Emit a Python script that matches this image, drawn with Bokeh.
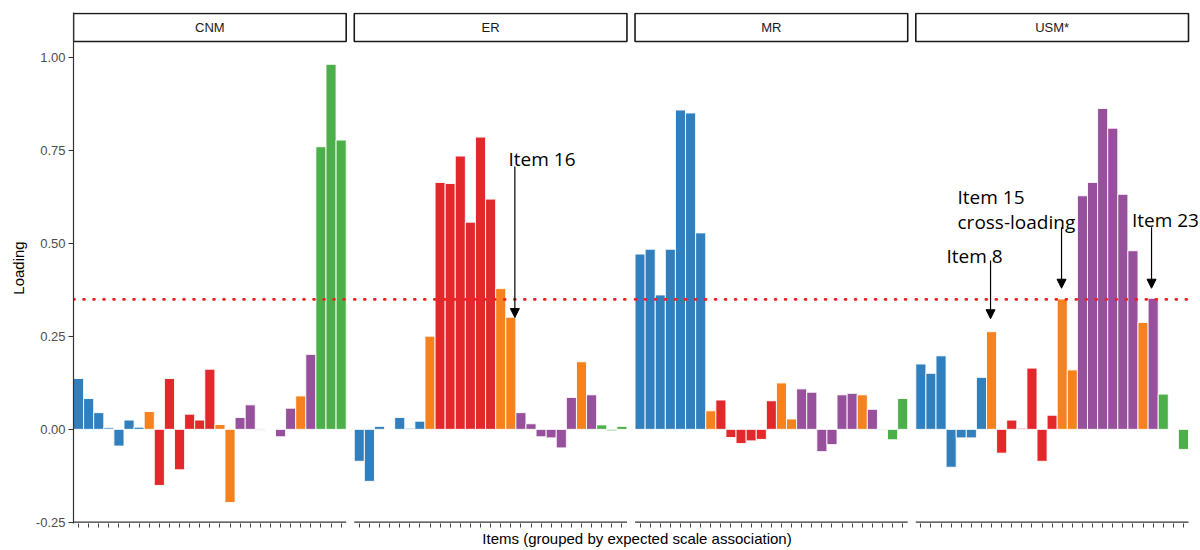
import numpy as np
from bokeh.plotting import figure
from bokeh.models import (ColumnDataSource, FixedTicker, PrintfTickFormatter,
                          Label, Arrow, NormalHead, Range1d)
from bokeh.embed import file_html
from bokeh.resources import INLINE
from bokeh.core.properties import value

# ---------------- data ----------------
panels = ["CNM", "ER", "MR", "USM*"]
n_items = 27
# expected scale association of each item slot (drives colour)
item_group = (["MR"] * 7 + ["Other"] + ["ER"] * 6 + ["Other"] * 2 +
              ["USM"] * 6 + ["Other"] + ["USM"] + ["CNM"] * 3)
group_colors = {"MR": "#317fbd", "Other": "#f5821f", "ER": "#e2282a",
                "USM": "#97509b", "CNM": "#4caf4a"}

cnm_loadings = [0.137, 0.083, 0.045, 0.004, -0.045, 0.025, 0.006, 0.048,
                -0.151, 0.137, -0.109, 0.041, 0.025, 0.162, 0.013, -0.197,
                0.032, 0.066, -0.002, 0.000, -0.020, 0.057, 0.090, 0.202,
                0.761, 0.983, 0.779]
er_loadings = [-0.086, -0.140, 0.008, 0.000, 0.032, 0.003, 0.022, 0.251,
               0.665, 0.662, 0.736, 0.558, 0.787, 0.620, 0.379, 0.302,
               0.045, 0.015, -0.020, -0.023, -0.050, 0.086, 0.182, 0.093,
               0.012, -0.004, 0.008]
mr_loadings = [0.472, 0.485, 0.362, 0.485, 0.860, 0.852, 0.529, 0.050,
               0.079, -0.022, -0.038, -0.031, -0.027, 0.077, 0.125, 0.028,
               0.109, 0.100, -0.060, -0.041, 0.093, 0.097, 0.093, 0.054,
               -0.002, -0.028, 0.083]
usm_loadings = [0.176, 0.151, 0.198, -0.102, -0.023, -0.023, 0.140, 0.263,
                -0.064, 0.025, 0.003, 0.165, -0.086, 0.038, 0.351, 0.160,
                0.629, 0.665, 0.864, 0.811, 0.633, 0.481, 0.288, 0.353,
                0.095, 0.000, -0.054]
panel_loadings = [cnm_loadings, er_loadings, mr_loadings, usm_loadings]

threshold = 0.35
y_ticks = [-0.25, 0.0, 0.25, 0.50, 0.75, 1.00]

# annotations: panel, text lines, label x (item units), baseline y, arrow x, arrow y0, arrow y1
ann_panel = ["ER", "USM*", "USM*", "USM*"]
ann_text = [["Item 16"], ["Item 15", "cross-loading"], ["Item 8"], ["Item 23"]]
ann_text_x = [15.77, 4.63, 3.54, 21.90]
ann_text_y = [0.727, 0.627, 0.468, 0.563]
ann_arrow_x = [16.40, 14.93, 7.90, 23.84]
ann_arrow_y0 = [0.708, 0.544, 0.455, 0.544]
ann_arrow_y1 = [0.301, 0.380, 0.298, 0.380]

# ---------------- layout helpers ----------------
GAP = 0.8
step = n_items + GAP
def px(k, i):
    return k * step + i

xs, tops, cols = [], [], []
for k, vals in enumerate(panel_loadings):
    for i, v in enumerate(vals, start=1):
        xs.append(px(k, i))
        tops.append(v)
        cols.append(group_colors[item_group[i - 1]])
src = ColumnDataSource(dict(x=xs, top=tops, color=cols))

PX_PER_UNIT = 10.0996
LEFT = 73
FIG_W = 1200
x_start = 0.5
x_end = x_start + (FIG_W - LEFT) / PX_PER_UNIT
y_start, y_end = -0.2535, 1.1225
strip_bottom, strip_top = 1.0444, 1.1198

p = figure(width=FIG_W, height=550, output_backend="svg", toolbar_location=None,
           x_range=Range1d(x_start, x_end), y_range=Range1d(y_start, y_end),
           min_border_left=LEFT, min_border_right=0, min_border_top=12,
           min_border_bottom=27)
p.outline_line_color = None
p.xgrid.visible = False
p.ygrid.visible = False
p.background_fill_color = "white"

# bars
p.vbar(x="x", top="top", bottom=0, width=1.0, fill_color="color",
       line_color="white", line_width=0.9, source=src)

# per-panel threshold line, x-axis line and strips
seg_x0 = [px(k, 0.5) for k in range(4)]
seg_x1 = [px(k, n_items + 0.5) for k in range(4)]
p.segment(x0=seg_x0, x1=seg_x1, y0=[threshold] * 4, y1=[threshold] * 4,
          line_color="#f0201e", line_width=2.6, line_dash=value("1 9"),
          line_cap="round")
p.segment(x0=seg_x0, x1=seg_x1, y0=[-0.25] * 4, y1=[-0.25] * 4,
          line_color="#333333", line_width=1.2)
p.quad(left=seg_x0, right=seg_x1, bottom=[strip_bottom] * 4,
       top=[strip_top] * 4, fill_color="white", line_color="#1a1a1a",
       line_width=1.6)
p.text(x=[(a + b) / 2 for a, b in zip(seg_x0, seg_x1)],
       y=[(strip_bottom + strip_top) / 2] * 4, text=panels,
       text_font=value("Liberation Sans"), text_font_size="13px",
       text_color="#1a1a1a", text_align="center", text_baseline="middle")

# axes
yax = p.yaxis[0]
yax.ticker = FixedTicker(ticks=y_ticks)
yax.formatter = PrintfTickFormatter(format="%.2f")
yax.major_label_text_font = "Liberation Sans"
yax.major_label_text_font_size = "13px"
yax.major_label_text_color = "#4d4d4d"
yax.axis_line_color = "#333333"
yax.axis_line_width = 1.2
yax.major_tick_line_color = "#333333"
yax.major_tick_in = 0
yax.major_tick_out = 5
yax.minor_tick_line_color = None
yax.major_label_standoff = 3
yax.axis_label = "Loading"
yax.axis_label_text_font = "Liberation Sans"
yax.axis_label_text_font_size = "15px"
yax.axis_label_text_font_style = "normal"
yax.axis_label_text_color = "black"
yax.axis_label_standoff = 6

xax = p.xaxis[0]
xax.ticker = FixedTicker(ticks=xs)
xax.major_label_overrides = {x: "" for x in xs}
xax.major_label_standoff = 0
xax.axis_line_color = None
xax.major_tick_line_color = "#444444"
xax.major_tick_in = 0
xax.major_tick_out = 4
xax.minor_tick_line_color = None
xax.axis_label = "Items (grouped by expected scale association)"
xax.axis_label_text_font = "Liberation Sans"
xax.axis_label_text_font_size = "15px"
xax.axis_label_text_font_style = "normal"
xax.axis_label_text_color = "black"
xax.axis_label_standoff = 2

# annotations
for pan, lines, tx, ty, ax, ay0, ay1 in zip(ann_panel, ann_text, ann_text_x,
                                            ann_text_y, ann_arrow_x,
                                            ann_arrow_y0, ann_arrow_y1):
    k = panels.index(pan)
    for j, line in enumerate(lines):
        p.add_layout(Label(x=px(k, tx), y=ty - j * 0.0673, text=line,
                           text_align="left", text_baseline="alphabetic",
                           text_font="Open Sans", text_font_size="19px",
                           text_color="black"))
    p.add_layout(Arrow(end=NormalHead(size=9, fill_color="black",
                                      line_color="black"),
                       x_start=px(k, ax), y_start=ay0, x_end=px(k, ax),
                       y_end=ay1, line_color="black", line_width=1.2))

open("out.html", "w").write(file_html(p, INLINE))
